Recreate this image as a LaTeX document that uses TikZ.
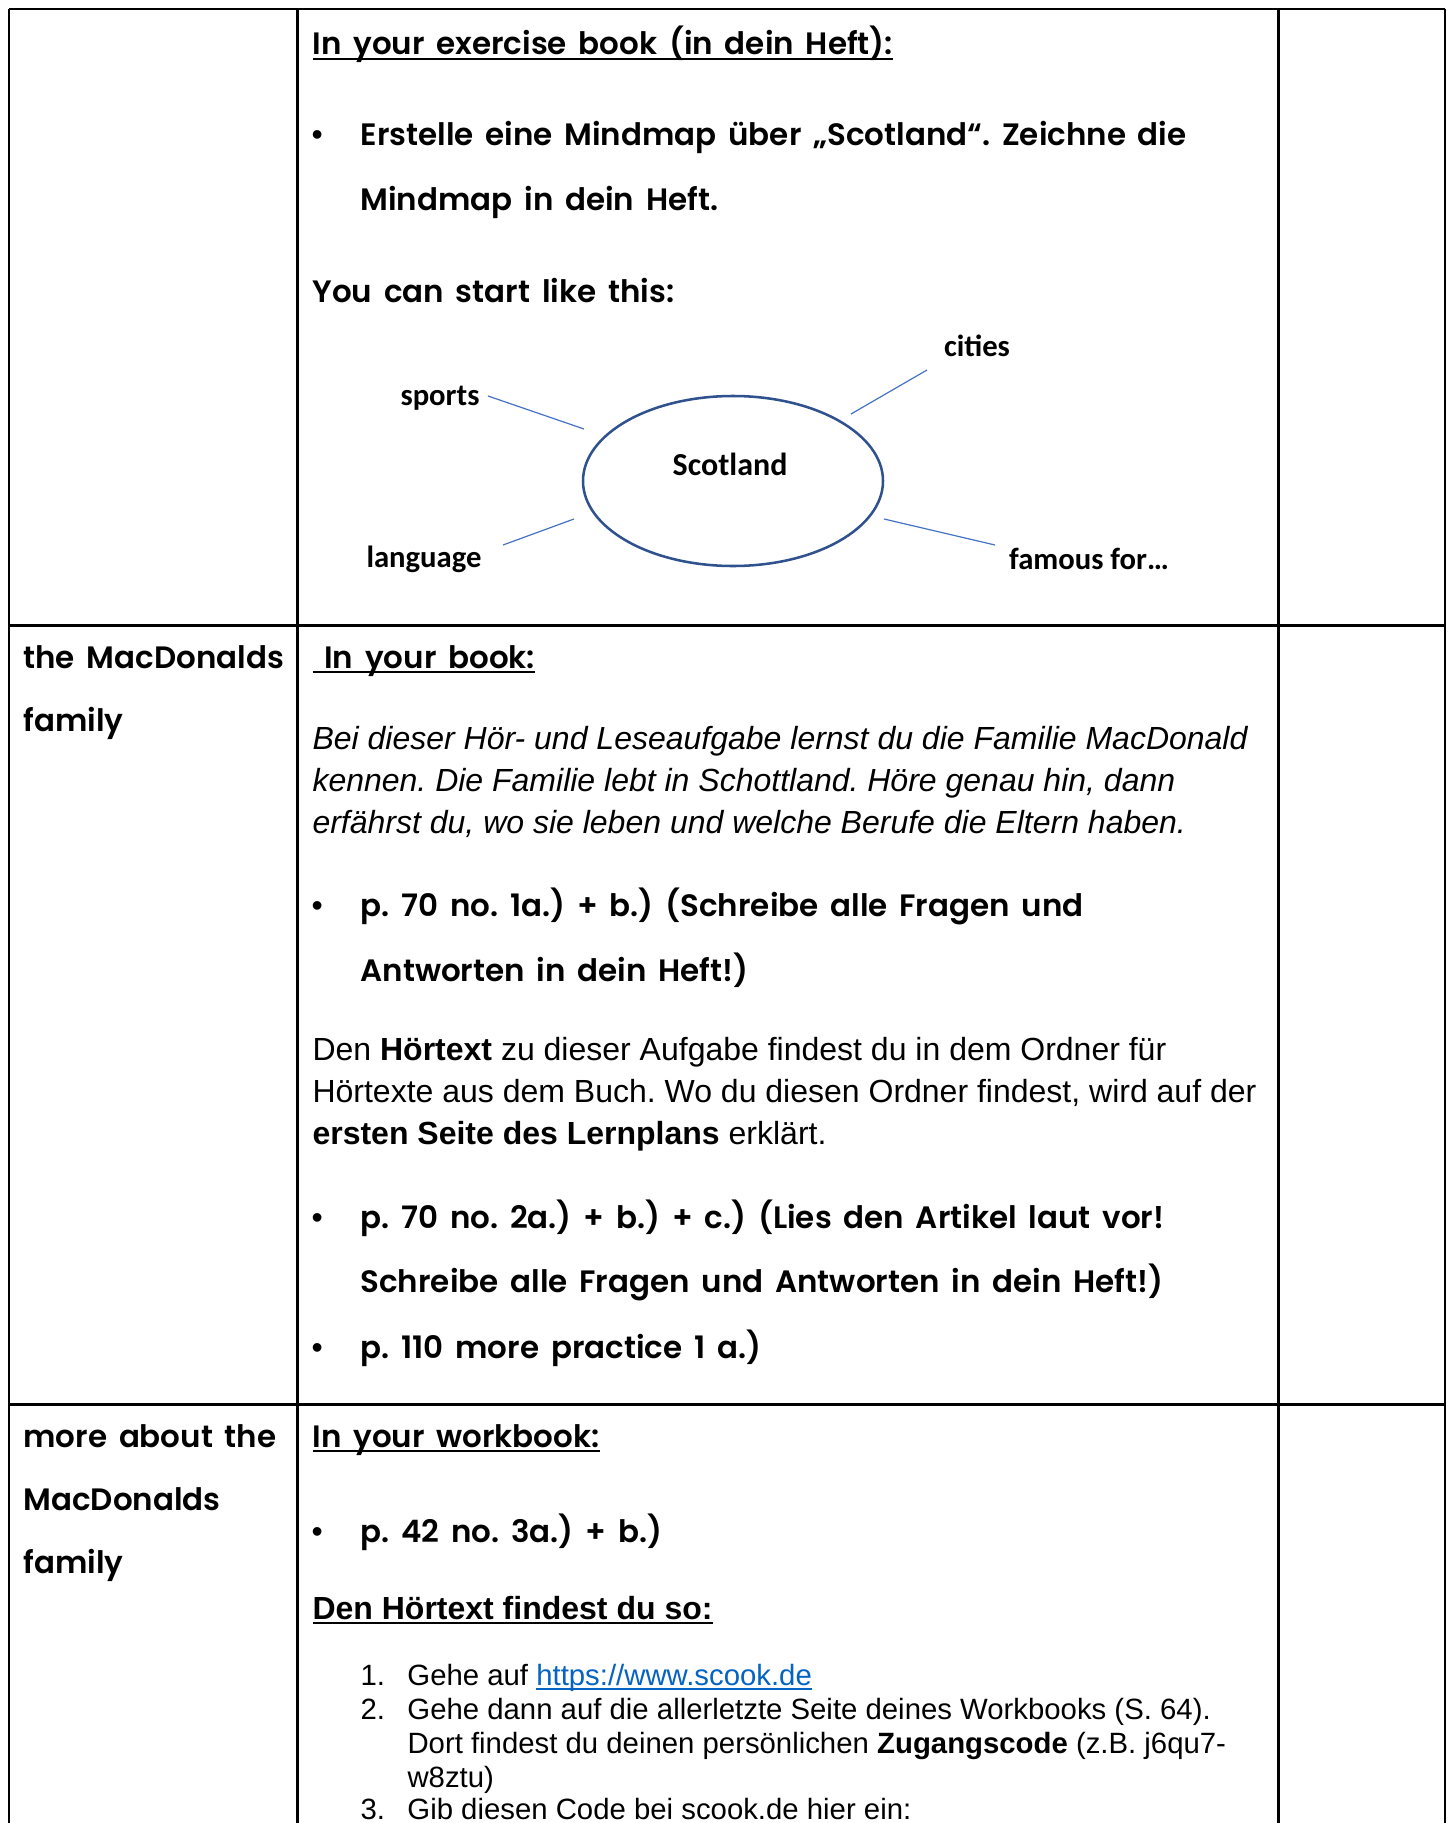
\documentclass[tikz,border=0pt]{standalone}
\usepackage{fontspec}
\setmainfont{Liberation Sans}
\newfontfamily\handfont{Poppins}[BoldFont={Poppins SemiBold}, WordSpace=1.6]
\newfontfamily\calfont{Carlito}
\usetikzlibrary{shapes.geometric}
\definecolor{ringblue}{HTML}{2F528F}
\definecolor{spokeblue}{HTML}{4472C4}
\definecolor{linkblue}{HTML}{0563C1}
\frenchspacing
\newsavebox{\ulbox}
\newcommand{\ul}[1]{\sbox\ulbox{#1}\rlap{\rule[-1.8pt]{\wd\ulbox}{0.7pt}}\usebox\ulbox}
\newcommand{\bul}{\makebox[18.4pt][l]{\rmfamily\mdseries\fontsize{12}{12}\selectfont •}}
\newcommand{\num}[1]{\makebox[17.6pt][l]{#1}}
\tikzset{
  hand/.style={font=\handfont\bfseries\fontsize{11.6}{13}\selectfont, anchor=base west, inner sep=0pt},
  body/.style={font=\fontsize{12}{14}\selectfont, anchor=base west, inner sep=0pt},
  slant/.style={font=\itshape\fontsize{12}{14}\selectfont, anchor=base west, inner sep=0pt},
  small/.style={font=\fontsize{11}{13}\selectfont, anchor=base west, inner sep=0pt},
  topic/.style={font=\calfont\bfseries\fontsize{11.5}{13}\selectfont, inner sep=0pt},
  spoke/.style={draw=spokeblue, line width=0.45pt},
  grid/.style={line width=1.1pt}
}
\begin{document}
\begin{tikzpicture}[x=0.375pt, y=-0.375pt]
  \useasboundingbox (0,0) rectangle (1451,1823);
  % table
  \foreach \y in {9,625.5,1404.5}
    \draw[grid] (9,\y) -- (1445,\y);
  \foreach \x in {9,297.5,1278.5,1445}
    \draw[grid] (\x,9) -- (\x,1840);

  % row 1
  \node[hand] (ex-head) at (312,55) {\ul{In your exercise book (in dein Heft):}};
  \node[hand] (ex-b1) at (311,145) {\bul Erstelle eine Mindmap über „Scotland“. Zeichne die};
  \node[hand] (ex-b1b) at (360,210) {Mindmap in dein Heft.};
  \node[hand] (ex-start) at (312,302) {You can start like this:};

  % mindmap
  \node[ellipse, draw=ringblue, line width=0.95pt, minimum width=112.5pt, minimum height=63.75pt] (scot) at (733,481) {};
  \node[topic, font=\calfont\bfseries\fontsize{12}{14}\selectfont] (scot-name) at (730,464) {Scotland};
  \node[topic] (cities) at (977,346) {cities};
  \node[topic] (sports) at (440,398) {sports};
  \node[topic] (language) at (424,559) {language};
  \node[topic] (famous) at (1089,559) {famous for…};
  \coordinate (sp-a) at (488,396);   \coordinate (sp-b) at (584,429);
  \coordinate (ci-a) at (927,370);   \coordinate (ci-b) at (851,414);
  \coordinate (la-a) at (503,545);   \coordinate (la-b) at (574,519);
  \coordinate (fa-a) at (995,545);   \coordinate (fa-b) at (884,519);
  \draw[spoke] (sp-a) -- (sp-b);
  \draw[spoke] (ci-a) -- (ci-b);
  \draw[spoke] (la-a) -- (la-b);
  \draw[spoke] (fa-a) -- (fa-b);

  % row 2
  \node[hand] (fam-1) at (23,668) {the MacDonalds};
  \node[hand] (fam-2) at (23,731) {family};
  \node[hand] (bk-head) at (312,668) {\ul{\ In your book:}};
  \node[slant] (bk-i1) at (312,749) {Bei dieser Hör- und Leseaufgabe lernst du die Familie MacDonald};
  \node[slant] (bk-i2) at (312,791) {kennen. Die Familie lebt in Schottland. Höre genau hin, dann};
  \node[slant] (bk-i3) at (312,833) {erfährst du, wo sie leben und welche Berufe die Eltern haben.};
  \node[hand] (bk-b1) at (311,916) {\bul p. 70 no. 1a.) + b.) (Schreibe alle Fragen und};
  \node[hand] (bk-b1b) at (360,981) {Antworten in dein Heft!)};
  \node[body] (bk-t1) at (312,1060) {Den \textbf{Hörtext} zu dieser Aufgabe findest du in dem Ordner für};
  \node[body] (bk-t2) at (312,1102) {Hörtexte aus dem Buch. Wo du diesen Ordner findest, wird auf der};
  \node[body] (bk-t3) at (312,1144) {\textbf{ersten Seite des Lernplans} erklärt.};
  \node[hand] (bk-b2) at (311,1228) {\bul p. 70 no. 2a.) + b.) + c.) (Lies den Artikel laut vor!};
  \node[hand] (bk-b2b) at (360,1292) {Schreibe alle Fragen und Antworten in dein Heft!)};
  \node[hand] (bk-b3) at (311,1358) {\bul p. 110 more practice 1 a.)};

  % row 3
  \node[hand] (more-1) at (23,1447) {more about the};
  \node[hand] (more-2) at (23,1510) {MacDonalds};
  \node[hand] (more-3) at (23,1573) {family};
  \node[hand] (wb-head) at (312,1447) {\ul{In your workbook:}};
  \node[hand] (wb-b1) at (311,1542) {\bul p. 42 no. 3a.) + b.)};
  \node[body, font=\bfseries\fontsize{12}{14}\selectfont] (so-head) at (312,1619) {\ul{Den Hörtext findest du so:}};
  \node[small] (so-1) at (360,1685) {\num{1.}Gehe auf \textcolor{linkblue}{\ul{https://www.scook.de}}};
  \node[small] (so-2) at (360,1719) {\num{2.}Gehe dann auf die allerletzte Seite deines Workbooks (S. 64).};
  \node[small] (so-2b) at (407,1753) {Dort findest du deinen persönlichen \textbf{Zugangscode} (z.B. j6qu7-};
  \node[small] (so-2c) at (407,1787) {w8ztu)};
  \node[small] (so-3) at (360,1819) {\num{3.}Gib diesen Code bei scook.de hier ein:};
\end{tikzpicture}
\end{document}
